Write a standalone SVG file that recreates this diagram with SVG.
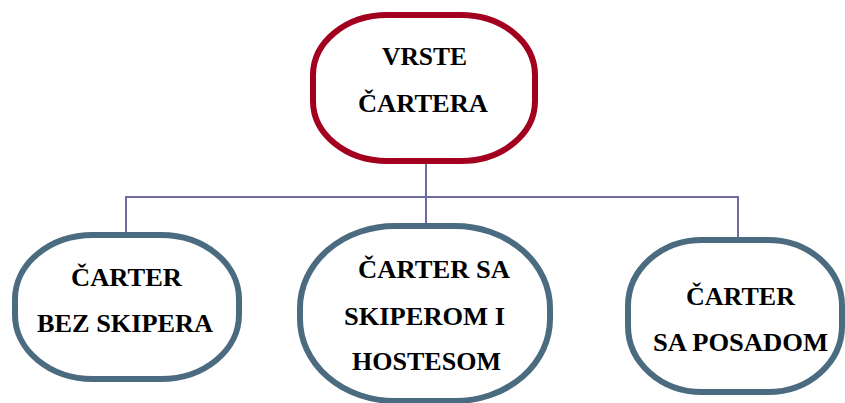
<svg xmlns="http://www.w3.org/2000/svg" width="845" height="403" viewBox="0 0 845 403">
<style>
.top{fill:#fff;stroke:#A3001F;stroke-width:6}
.sub{fill:#fff;stroke:#4B6B80;stroke-width:6}
text{font-family:'Liberation Serif','DejaVu Serif',serif;font-weight:700;font-size:26px;fill:#000}
.c{fill:none;stroke:#6F6CA2;stroke-width:2}
</style>
<rect width="845" height="403" fill="#fff"/>
<g id="connectors">
<line class="c" x1="426" y1="161" x2="426" y2="230"/>
<polyline class="c" points="126,236 126,197 738,197 738,241"/>
</g>
<g id="n-root">
<rect class="top" x="313" y="15" width="222" height="146" rx="74" ry="60"/>
<text x="382" y="65" textLength="85" lengthAdjust="spacingAndGlyphs">VRSTE</text>
<text x="358" y="112" textLength="130" lengthAdjust="spacingAndGlyphs">ČARTERA</text>
</g>
<g id="n-bez">
<rect class="sub" x="15" y="235" width="224" height="144" rx="78" ry="64"/>
<text x="71" y="286" textLength="111" lengthAdjust="spacingAndGlyphs">ČARTER</text>
<text x="37" y="332" textLength="176" lengthAdjust="spacingAndGlyphs">BEZ SKIPERA</text>
</g>
<g id="n-skiper">
<rect class="sub" x="300" y="226" width="250" height="175" rx="95" ry="82"/>
<text x="358" y="278" textLength="152" lengthAdjust="spacingAndGlyphs">ČARTER SA</text>
<text x="344" y="325" textLength="161" lengthAdjust="spacingAndGlyphs">SKIPEROM I</text>
<text x="352" y="370" textLength="149" lengthAdjust="spacingAndGlyphs">HOSTESOM</text>
</g>
<g id="n-posada">
<rect class="sub" x="628" y="240" width="214" height="152" rx="74" ry="66"/>
<text x="686" y="305" textLength="109" lengthAdjust="spacingAndGlyphs">ČARTER</text>
<text x="653" y="351" textLength="175" lengthAdjust="spacingAndGlyphs">SA POSADOM</text>
</g>
</svg>
